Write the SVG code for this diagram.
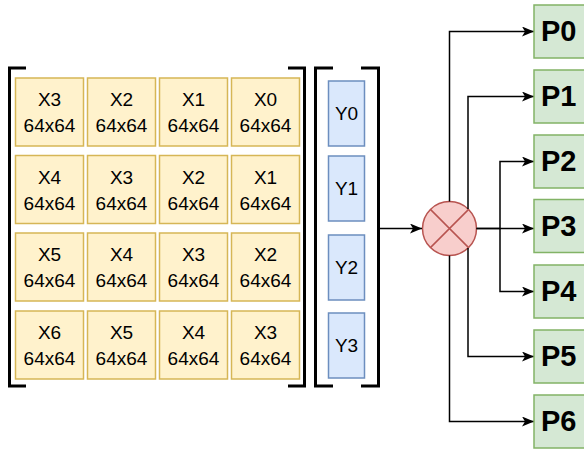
<svg xmlns="http://www.w3.org/2000/svg" width="584" height="453" viewBox="0 0 584 453">
<style>
.x{fill:#fff2cc;stroke:#d6b656;stroke-width:1.5}
.y{fill:#dae8fc;stroke:#6c8ebf;stroke-width:1.5}
.p{fill:#d5e8d4;stroke:#82b366;stroke-width:1.5}
.t{font-family:"Liberation Sans",Arial,sans-serif;font-size:19px;fill:#000;text-anchor:middle}
.pt{font-family:"Liberation Sans",Arial,sans-serif;font-size:29px;font-weight:bold;fill:#000}
.br{fill:none;stroke:#000;stroke-width:3}
.c{fill:none;stroke:#000;stroke-width:1.5}
</style>
<defs>
<marker id="ah" viewBox="0 0 12 10" refX="12" refY="5" markerWidth="12" markerHeight="10" markerUnits="userSpaceOnUse" orient="auto">
<path d="M0,0 L12,5 L0,10 L3,5 Z" fill="#000"/>
</marker>
</defs>
<g id="brackets">
<path class="br" d="M26,68 H9.5 V386 H26"/>
<path class="br" d="M288,68 H304.5 V386 H288"/>
<path class="br" d="M333,68 H315.5 V386 H333"/>
<path class="br" d="M361,68 H378.5 V386 H361"/>
</g>
<g id="xcells">
<g id="x00"><rect class="x" x="15.5" y="78" width="68" height="68"/><text class="t" x="49.5" y="106">X3</text><text class="t" x="49.5" y="132">64x64</text></g>
<g id="x01"><rect class="x" x="87.5" y="78" width="68" height="68"/><text class="t" x="121.5" y="106">X2</text><text class="t" x="121.5" y="132">64x64</text></g>
<g id="x02"><rect class="x" x="159.5" y="78" width="68" height="68"/><text class="t" x="193.5" y="106">X1</text><text class="t" x="193.5" y="132">64x64</text></g>
<g id="x03"><rect class="x" x="231.5" y="78" width="68" height="68"/><text class="t" x="265.5" y="106">X0</text><text class="t" x="265.5" y="132">64x64</text></g>
<g id="x10"><rect class="x" x="15.5" y="155.5" width="68" height="68"/><text class="t" x="49.5" y="183.5">X4</text><text class="t" x="49.5" y="209.5">64x64</text></g>
<g id="x11"><rect class="x" x="87.5" y="155.5" width="68" height="68"/><text class="t" x="121.5" y="183.5">X3</text><text class="t" x="121.5" y="209.5">64x64</text></g>
<g id="x12"><rect class="x" x="159.5" y="155.5" width="68" height="68"/><text class="t" x="193.5" y="183.5">X2</text><text class="t" x="193.5" y="209.5">64x64</text></g>
<g id="x13"><rect class="x" x="231.5" y="155.5" width="68" height="68"/><text class="t" x="265.5" y="183.5">X1</text><text class="t" x="265.5" y="209.5">64x64</text></g>
<g id="x20"><rect class="x" x="15.5" y="233" width="68" height="68"/><text class="t" x="49.5" y="261">X5</text><text class="t" x="49.5" y="287">64x64</text></g>
<g id="x21"><rect class="x" x="87.5" y="233" width="68" height="68"/><text class="t" x="121.5" y="261">X4</text><text class="t" x="121.5" y="287">64x64</text></g>
<g id="x22"><rect class="x" x="159.5" y="233" width="68" height="68"/><text class="t" x="193.5" y="261">X3</text><text class="t" x="193.5" y="287">64x64</text></g>
<g id="x23"><rect class="x" x="231.5" y="233" width="68" height="68"/><text class="t" x="265.5" y="261">X2</text><text class="t" x="265.5" y="287">64x64</text></g>
<g id="x30"><rect class="x" x="15.5" y="311" width="68" height="68"/><text class="t" x="49.5" y="339">X6</text><text class="t" x="49.5" y="365">64x64</text></g>
<g id="x31"><rect class="x" x="87.5" y="311" width="68" height="68"/><text class="t" x="121.5" y="339">X5</text><text class="t" x="121.5" y="365">64x64</text></g>
<g id="x32"><rect class="x" x="159.5" y="311" width="68" height="68"/><text class="t" x="193.5" y="339">X4</text><text class="t" x="193.5" y="365">64x64</text></g>
<g id="x33"><rect class="x" x="231.5" y="311" width="68" height="68"/><text class="t" x="265.5" y="339">X3</text><text class="t" x="265.5" y="365">64x64</text></g>
</g>
<g id="ycells">
<g id="y0"><rect class="y" x="328.5" y="81" width="36" height="65"/><text class="t" x="346.5" y="120">Y0</text></g>
<g id="y1"><rect class="y" x="328.5" y="156" width="36" height="65"/><text class="t" x="346.5" y="195">Y1</text></g>
<g id="y2"><rect class="y" x="328.5" y="235" width="36" height="65"/><text class="t" x="346.5" y="274">Y2</text></g>
<g id="y3"><rect class="y" x="328.5" y="313" width="36" height="65"/><text class="t" x="346.5" y="352">Y3</text></g>
</g>
<g id="mult">
<circle cx="449.5" cy="228.5" r="27" fill="#f8cecc" stroke="#b85450" stroke-width="1.5"/>
<path d="M430.4,209.4 L468.6,247.6 M468.6,209.4 L430.4,247.6" stroke="#b85450" stroke-width="1.5"/>
</g>
<g id="connectors">
<path class="c" d="M380,228.5 H422" marker-end="url(#ah)"/>
<path class="c" d="M449.5,201.5 V31.5 H534" marker-end="url(#ah)"/>
<path class="c" d="M468,209 V96.5 H534" marker-end="url(#ah)"/>
<path class="c" d="M476.5,228.5 H500 V161.5 H534" marker-end="url(#ah)"/>
<path class="c" d="M476.5,228.5 H534" marker-end="url(#ah)"/>
<path class="c" d="M500,228.5 V291.5 H534" marker-end="url(#ah)"/>
<path class="c" d="M468,248 V356.5 H534" marker-end="url(#ah)"/>
<path class="c" d="M449.5,255.5 V421.5 H534" marker-end="url(#ah)"/>
</g>
<g id="p0"><rect class="p" x="534" y="5" width="60" height="53"/><text class="pt" x="541" y="41">P0</text></g>
<g id="p1"><rect class="p" x="534" y="70" width="60" height="53"/><text class="pt" x="541" y="106">P1</text></g>
<g id="p2"><rect class="p" x="534" y="135" width="60" height="53"/><text class="pt" x="541" y="171">P2</text></g>
<g id="p3"><rect class="p" x="534" y="199.5" width="60" height="53"/><text class="pt" x="541" y="236">P3</text></g>
<g id="p4"><rect class="p" x="534" y="265" width="60" height="53"/><text class="pt" x="541" y="301">P4</text></g>
<g id="p5"><rect class="p" x="534" y="330" width="60" height="53"/><text class="pt" x="541" y="366">P5</text></g>
<g id="p6"><rect class="p" x="534" y="395" width="60" height="53"/><text class="pt" x="541" y="431">P6</text></g>
</svg>
